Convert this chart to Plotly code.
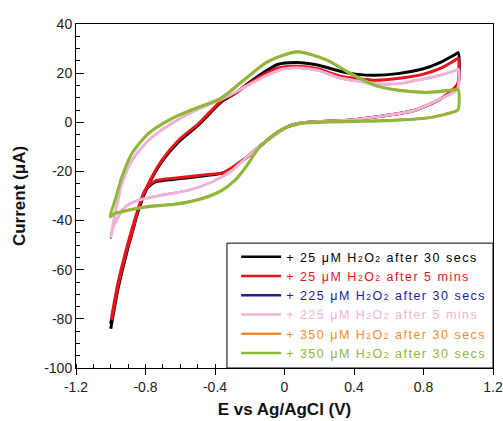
import plotly.graph_objects as go

# ---- data (E in V, current in µA) ----
black_x = [-1.0, -0.956, -0.908, -0.869, -0.84, -0.783, -0.706, -0.61, -0.494, -0.36, -0.29, -0.177, -0.04, 0.07, 0.19, 0.32, 0.42, 0.52, 0.65, 0.8, 0.9, 0.98, 1.0,
           1.0, 0.985, 0.9, 0.75, 0.55, 0.36, 0.2, 0.08, 0.015, -0.1, -0.215, -0.35, -0.45, -0.61, -0.744, -0.802, -0.85, -0.9, -0.96, -1.0]
black_y = [-84, -67, -53, -43, -35.5, -25.5, -16, -8, -1, 8.5, 11.5, 17.5, 23.5, 24.3, 23.3, 20.8, 19.5, 19.1, 19.8, 21.8, 24.5, 27.5, 28.3,
           15.5, 13.8, 9.6, 4.9, 2.4, 0.8, 0.3, -0.5, -1.9, -7.3, -14.1, -20.5, -21.7, -23.0, -24.3, -28, -38, -50, -68, -82]

red_x = [-0.994, -0.956, -0.908, -0.869, -0.84, -0.783, -0.706, -0.61, -0.494, -0.36, -0.29, -0.177, -0.04, 0.07, 0.19, 0.32, 0.42, 0.52, 0.65, 0.8, 0.9, 0.98, 1.0,
         1.0, 0.985, 0.9, 0.75, 0.55, 0.36, 0.2, 0.08, 0.015, -0.1, -0.215, -0.35, -0.45, -0.61, -0.744, -0.802, -0.85, -0.9, -0.96, -0.994]
red_y = [-80.6, -65.7, -52, -42.6, -34.5, -25, -15.5, -7.3, -0.5, 9, 11.5, 17, 22, 22.8, 21.8, 18.8, 17.8, 17.1, 17.8, 19.6, 22, 25.2, 26,
         16.5, 14.5, 9.6, 4.9, 2.4, 0.8, 0.3, -0.5, -1.9, -7.3, -14.1, -20.5, -21.3, -22.6, -23.8, -27.5, -37, -49, -66, -79]

pink_x = [-1.0, -0.975, -0.936, -0.879, -0.783, -0.667, -0.513, -0.36, -0.25, -0.12, -0.02, 0.07, 0.19, 0.32, 0.42, 0.52, 0.65, 0.8, 0.9, 0.98, 1.0,
          1.0, 0.985, 0.9, 0.75, 0.55, 0.36, 0.2, 0.08, 0.015, -0.1, -0.215, -0.302, -0.417, -0.552, -0.706, -0.84, -0.917, -0.975, -1.0]
pink_y = [-47, -37.2, -25, -15.5, -7.3, -1.2, 4.9, 9.5, 13.5, 18.5, 21.5, 22.2, 21.2, 18, 16.8, 15.7, 15.7, 17.6, 19.3, 21.0, 21.6,
          14.4, 12.8, 9.6, 4.9, 2.4, 0.8, 0.3, -0.5, -1.9, -7.3, -14.1, -19.6, -24.3, -27.7, -29.7, -31.7, -34.5, -41, -46]

blue_x = pink_x
blue_y = [-47.5, -37.8, -25.6, -15.9, -7.6, -1.5, 4.6, 9.3, 13.3, 18.3, 21.3, 22.0, 21.0, 17.8, 16.6, 15.5, 15.5, 17.4, 19.1, 20.8, 21.4,
          14.6, 13.0, 9.8, 5.1, 2.6, 1.0, 0.5, -0.3, -1.7, -7.1, -13.9, -19.4, -24.1, -27.5, -29.5, -31.5, -34.3, -40.6, -45.6]

green_x = [-1.004, -0.975, -0.936, -0.879, -0.783, -0.648, -0.513, -0.369, -0.235, -0.1, 0.073, 0.246, 0.362, 0.515, 0.65, 0.804, 0.9, 0.98, 1.0,
           1.0, 0.985, 0.842, 0.65, 0.458, 0.265, 0.092, -0.023, -0.1, -0.158, -0.215, -0.283, -0.359, -0.475, -0.629, -0.763, -0.898, -0.98, -1.004]
green_y = [-38.5, -31.7, -22.3, -12.8, -4.6, 1.5, 5.6, 9.6, 17.1, 24.5, 28.6, 25.2, 20.5, 15.1, 13.0, 12.1, 12.5, 13.1, 13.3,
           5.2, 4.4, 1.9, 0.8, 0.4, 0.1, -0.5, -3.3, -7.3, -11.4, -17.5, -23.5, -27.7, -31.1, -33.4, -34.2, -35.8, -37.3, -38.5]

orange_x = green_x
orange_y = [v + 0.4 for v in green_y]

sub2 = "<span style='font-size:8.5px'>2</span>"
names = [
    f"+ 25 μM H{sub2}O{sub2} after 30 secs",
    f"+ 25 μM H{sub2}O{sub2} after 5 mins",
    f"+ 225 μM H{sub2}O{sub2} after 30 secs",
    f"+ 225 μM H{sub2}O{sub2} after 5 mins",
    f"+ 350 μM H{sub2}O{sub2} after 30 secs",
    f"+ 350 μM H{sub2}O{sub2} after 30 secs",
]
colors = ["#000000", "#e8141c", "#1c1c9c", "#f2b2d8", "#f58a2a", "#8cb83c"]
widths = [3, 3, 1.2, 3, 1.5, 3]
xs = [black_x, red_x, blue_x, pink_x, orange_x, green_x]
ys = [black_y, red_y, blue_y, pink_y, orange_y, green_y]

fig = go.Figure()
for i, (x, y, n, c, w) in enumerate(zip(xs, ys, names, colors, widths)):
    fig.add_trace(go.Scatter(
        x=x, y=y, mode="lines",
        line=dict(color=c, width=w, shape="spline", smoothing=0.7),
        name=n, legendgroup=f"g{i}", showlegend=False,
    ))
# legend-only entries (uniform sample width)
for i, (n, c) in enumerate(zip(names, colors)):
    fig.add_trace(go.Scatter(
        x=[None], y=[None], mode="lines",
        line=dict(color=c, width=2.5),
        name=f"<span style='color:{c};letter-spacing:1.5px'>{n}</span>", legendgroup=f"g{i}",
    ))

font_family = "Arial, Liberation Sans, sans-serif"
yvals = [40, 20, 0, -20, -40, -60, -80, -100]
xvals = [-1.2, -0.8, -0.4, 0, 0.4, 0.8, 1.2]

# legend frame (white box with black border), drawn over the curves
fig.add_shape(type="rect", xref="paper", yref="paper",
              x0=0.362, x1=1.0, y0=0.0, y1=0.363,
              line=dict(color="black", width=1), fillcolor="white", layer="above")

fig.update_layout(
    width=503, height=421,
    margin=dict(l=76, r=10, t=24, b=53),
    paper_bgcolor="white", plot_bgcolor="white",
    font=dict(family=font_family, color="#222"),
    showlegend=True,
    legend=dict(
        x=0.384, y=0.0, xanchor="left", yanchor="bottom",
        bgcolor="rgba(0,0,0,0)", borderwidth=0,
        font=dict(size=12.5, family=font_family),
        tracegroupgap=0, itemwidth=40,
    ),
    xaxis=dict(
        range=[-1.2, 1.2], tickvals=xvals, ticktext=[f"{v:g}" for v in xvals],
        showline=True, linecolor="black", linewidth=1, mirror=True,
        ticks="outside", ticklen=6, tickcolor="black",
        minor=dict(dtick=0.1, tick0=-1.2, ticks="inside", ticklen=4, tickcolor="black"),
        showgrid=False, zeroline=False, automargin=False,
        tickfont=dict(size=14, color="#222"),
        title=dict(text="<b>E vs Ag/AgCl (V)</b>", font=dict(size=17, color="#111"), standoff=9),
    ),
    yaxis=dict(
        range=[-100, 40], tickvals=yvals, ticktext=[str(v) for v in yvals],
        showline=True, linecolor="black", linewidth=1, mirror=True,
        ticks="inside", ticklen=8, tickcolor="black",
        minor=dict(dtick=5, tick0=0, ticks="inside", ticklen=4, tickcolor="black"),
        showgrid=False, zeroline=False, automargin=False,
        tickfont=dict(size=14, color="#222"),
        title=dict(text="<b>Current (μA)</b>", font=dict(size=17, color="#111"), standoff=14),
    ),
)

fig.write_html("out.html")
